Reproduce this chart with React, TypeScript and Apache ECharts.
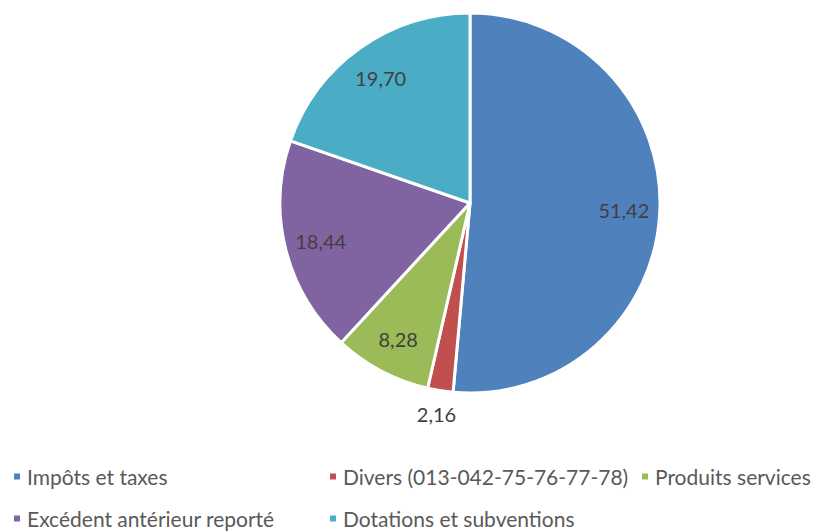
import React, { useEffect, useRef } from "react";
import * as echarts from "echarts";

const categories = [
  "Impôts et taxes",
  "Divers (013-042-75-76-77-78)",
  "Produits services",
  "Excédent antérieur reporté",
  "Dotations et subventions",
];
const values = [51.42, 2.16, 8.28, 18.44, 19.7];
const colors = ["#4F81BD", "#C0504D", "#9BBB59", "#8064A2", "#4BACC6"];
const outsideLabels = ["Divers (013-042-75-76-77-78)"];
// legend grid: [column, row] for each category
const legendCells = [
  [0, 0],
  [1, 0],
  [2, 0],
  [0, 1],
  [1, 1],
];

const FONT = "Lato";
const fmt = (v: number) => v.toFixed(2).replace(".", ",");

export default function App() {
  const ref = useRef<HTMLDivElement>(null);
  useEffect(() => {
    document.body.style.margin = "0";
    const chart = echarts.init(ref.current!, undefined, { renderer: "svg" });
    const data = categories.map((name, i) => ({
      name,
      value: values[i],
      itemStyle: { color: colors[i] },
    }));
    const center = [470, 203];
    const colX = [12, 328, 640];
    const rowY = [466, 508];
    const legends = categories.map((name, i) => ({
      orient: "horizontal",
      left: colX[legendCells[i][0]],
      top: rowY[legendCells[i][1]],
      padding: 0,
      itemWidth: 8,
      itemHeight: 8,
      icon: "rect",
      textStyle: {
        fontFamily: FONT,
        fontSize: 21,
        lineHeight: 20,
        color: "#595959",
        padding: [0, 0, 0, 1],
      },
      selectedMode: false,
      data: [name],
    }));
    chart.setOption({
      animation: false,
      legend: legends,
      series: [
        {
          type: "pie",
          center,
          radius: [0, 190],
          startAngle: 90,
          clockwise: true,
          data,
          label: { show: false },
          labelLine: { show: false },
          itemStyle: { borderColor: "#fff", borderWidth: 3 },
          silent: true,
        },
        {
          type: "pie",
          center,
          radius: [112, 190],
          startAngle: 90,
          clockwise: true,
          silent: true,
          data: data.map((d) => ({ ...d, itemStyle: { color: "transparent" } })),
          label: {
            show: true,
            position: "inside",
            fontFamily: FONT,
            fontSize: 20,
            color: "#404040",
            formatter: (p: any) => (outsideLabels.includes(p.name) ? "" : fmt(p.value)),
          },
          labelLine: { show: false },
          legendHoverLink: false,
        },
        {
          type: "pie",
          center,
          radius: [200, 222],
          startAngle: 90,
          clockwise: true,
          silent: true,
          data: data.map((d) => ({ ...d, itemStyle: { color: "transparent" } })),
          label: {
            show: true,
            position: "inside",
            fontFamily: FONT,
            fontSize: 20,
            color: "#404040",
            formatter: (p: any) => (outsideLabels.includes(p.name) ? fmt(p.value) : ""),
          },
          labelLine: { show: false },
          legendHoverLink: false,
        },
      ],
    });
    return () => chart.dispose();
  }, []);
  return <div ref={ref} style={{ width: 821, height: 531 }} />;
}
